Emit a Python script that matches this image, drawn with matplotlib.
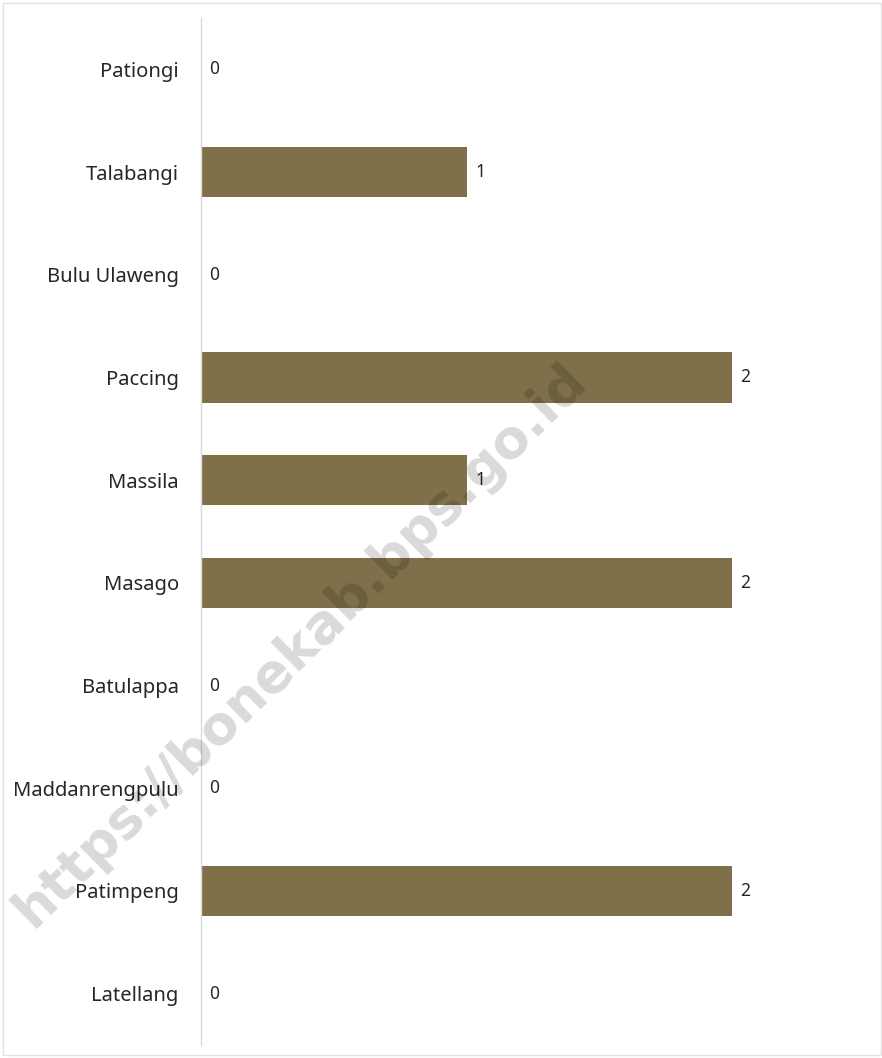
import matplotlib
matplotlib.use("Agg")
import matplotlib.pyplot as plt
from matplotlib.patches import Rectangle

plt.rcParams['font.family'] = ['Noto Sans', 'DejaVu Sans']

# data (top to bottom as in the picture)
villages = ["Pationgi", "Talabangi", "Bulu Ulaweng", "Paccing", "Massila",
            "Masago", "Batulappa", "Maddanrengpulu", "Patimpeng", "Latellang"]
counts = [0, 1, 0, 2, 1, 2, 0, 0, 2, 0]

bar_color = "#7f7049"
axis_gray = "#d9d9d9"

fig = plt.figure(figsize=(8.82, 10.58), dpi=100)
ax = fig.add_axes([201 / 882, 1 - 1045 / 1058, 664 / 882, 1027 / 1058])

ypos = list(range(len(villages)))
bars = ax.barh(ypos, counts, height=0.49, color=bar_color)
ax.bar_label(bars, labels=[str(c) for c in counts], padding=6,
             fontsize=12.5, color="#262626")

ax.set_yticks(ypos)
ax.set_yticklabels(villages, fontsize=14.5, color="#262626")
ax.set_ylim(len(villages) - 0.5, -0.5)
ax.set_xlim(0, 2.5)
ax.set_xticks([])
ax.tick_params(axis="y", length=0, pad=16)

for s in ["top", "right", "bottom"]:
    ax.spines[s].set_visible(False)
ax.spines["left"].set_color(axis_gray)
ax.spines["left"].set_linewidth(1)

# light frame around the whole picture
fig.patches.append(Rectangle((3 / 882, 3 / 1058), 878 / 882, 1052 / 1058,
                             transform=fig.transFigure, fill=False,
                             edgecolor="#e3e3e3", linewidth=1))

# watermark
fig.text(300 / 882, 1 - 645 / 1058, "https://bonekab.bps.go.id",
         rotation=44.5, ha="center", va="center", fontsize=38.5,
         family="DejaVu Sans", fontweight="bold", color="black", alpha=0.15)

fig.savefig("out.png", dpi=100)
